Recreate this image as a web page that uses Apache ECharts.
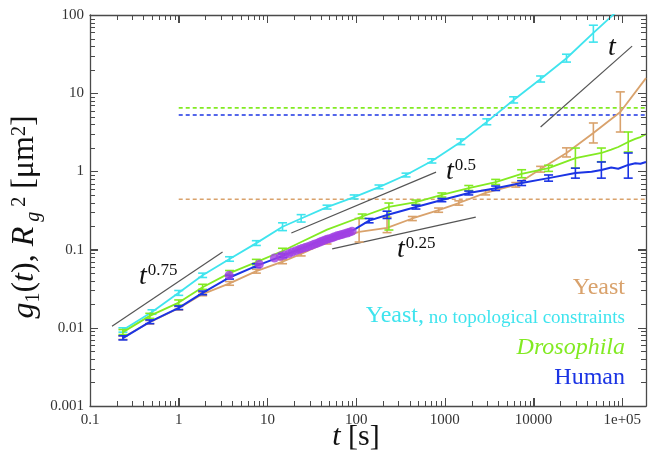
<!DOCTYPE html>
<html>
<head>
<meta charset="utf-8">
<script src="https://cdn.jsdelivr.net/npm/echarts@6/dist/echarts.min.js"></script>
<style>
  html, body { margin: 0; padding: 0; background: #fff; }
  #chart { width: 649px; height: 461px; }
</style>
</head>
<body>
<div id="chart"></div>
<script>
const X_MIN = 0.1, X_MAX = 185000
const Y_MIN = 0.001, Y_MAX = 100
const xTickLabels = ['0.1', '1', '10', '100', '1000', '10000', '1e+05']
const yTickLabels = ['0.001', '0.01', '0.1', '1', '10', '100']

const yeastT = [0.235, 0.472, 1, 1.86, 3.74, 7.5, 14.8, 24, 47, 108, 223, 430, 850, 1436, 2880, 6300, 12000, 23500, 47200, 95000, 185000]
const yeastV = [0.0075, 0.0118, 0.0178, 0.027, 0.037, 0.053, 0.070, 0.088, 0.125, 0.168, 0.19, 0.25, 0.32, 0.394, 0.53, 0.67, 1.07, 1.72, 3.1, 5.75, 15.6]
const yeastLo = [0.0071, 0.0112, 0.0169, 0.0257, 0.035, 0.050, 0.066, 0.083, 0.118, 0.125, 0.165, 0.235, 0.30, 0.37, 0.50, 0.63, 0.98, 1.53, 2.31, 3.19, null]
const yeastHi = [0.0079, 0.0124, 0.0187, 0.0284, 0.039, 0.056, 0.074, 0.094, 0.133, 0.25, 0.26, 0.265, 0.34, 0.42, 0.57, 0.72, 1.16, 2.0, 4.16, 10.4, null]

const freeT = [0.235, 0.5, 1, 1.86, 3.74, 7.5, 14.8, 24, 47, 95, 181, 365, 714, 1510, 2970, 5960, 12000, 23500, 47200, 95000]
const freeV = [0.0094, 0.0159, 0.028, 0.047, 0.076, 0.121, 0.196, 0.25, 0.35, 0.47, 0.63, 0.90, 1.36, 2.38, 4.3, 8.2, 15.2, 28, 59, 122]
const freeLo = [0.0088, 0.0149, 0.026, 0.044, 0.071, 0.113, 0.175, 0.225, 0.33, 0.445, 0.60, 0.85, 1.28, 2.2, 3.95, 7.5, 13.9, 25, 45, null]
const freeHi = [0.0100, 0.0170, 0.030, 0.050, 0.081, 0.130, 0.22, 0.28, 0.37, 0.50, 0.67, 0.95, 1.45, 2.6, 4.7, 9.0, 16.6, 31.5, 74, null]

const drosT = [0.235, 0.472, 1, 1.86, 3.74, 7.5, 14.8, 24, 47, 117, 234, 472, 925, 1860, 3740, 7330, 14750, 29600, 58100, 75000, 90000, 116600, 140000, 160000, 185000]
const drosV = [0.0088, 0.0142, 0.021, 0.033, 0.050, 0.069, 0.096, 0.125, 0.18, 0.265, 0.351, 0.406, 0.50, 0.61, 0.73, 0.93, 1.10, 1.48, 1.72, 1.9, 2.05, 2.38, 2.6, 2.75, 3.0]
const drosLo = [0.0082, 0.0132, 0.0195, 0.031, 0.046, 0.064, 0.089, null, null, 0.25, 0.178, 0.38, 0.47, 0.57, 0.68, 0.83, 1.0, 1.10, 1.33, null, null, 1.77, null, null, null]
const drosHi = [0.0095, 0.0153, 0.0227, 0.036, 0.054, 0.075, 0.104, null, null, 0.285, 0.394, 0.43, 0.53, 0.66, 0.79, 1.05, 1.2, 1.99, 1.99, null, null, 3.19, null, null, null]

const humanT = [0.235, 0.472, 1, 1.86, 3.74, 7.5, 14.8, 24, 47, 95, 140, 223, 472, 925, 1860, 3740, 7330, 14750, 29600, 45000, 58100, 75000, 90000, 116600, 140000, 160000, 185000]
const humanV = [0.0074, 0.0119, 0.018, 0.028, 0.044, 0.062, 0.083, 0.103, 0.14, 0.18, 0.235, 0.277, 0.351, 0.43, 0.53, 0.61, 0.71, 0.82, 0.955, 0.99, 1.04, 1.12, 1.08, 1.21, 1.27, 1.25, 1.32]
const humanLo = [0.0070, 0.0113, 0.0171, 0.0265, 0.042, 0.059, 0.079, null, null, null, 0.22, 0.25, 0.33, 0.41, 0.50, 0.57, 0.66, 0.75, 0.82, null, 0.82, null, null, 0.82, null, null, null]
const humanHi = [0.0079, 0.0126, 0.0190, 0.0295, 0.047, 0.066, 0.088, null, null, null, 0.25, 0.31, 0.37, 0.45, 0.56, 0.65, 0.76, 0.90, 1.10, null, 1.32, null, null, 1.72, null, null, null]

const dotT = [3.7, 8.1, 12, 14, 15.6, 17.5, 19, 21, 22.8, 24.5, 26.6, 28.5, 31, 33.5, 36, 38.5, 41, 44, 47, 50, 54, 57, 61, 65, 69, 74, 79, 84, 90]
const dotV = [0.047, 0.065, 0.078, 0.082, 0.085, 0.089, 0.093, 0.097, 0.100, 0.103, 0.106, 0.109, 0.113, 0.117, 0.120, 0.124, 0.128, 0.132, 0.136, 0.138, 0.142, 0.146, 0.150, 0.153, 0.156, 0.160, 0.163, 0.167, 0.172]

const plateauT = [1, X_MAX]
const plateauDros = 6.5, plateauHuman = 5.27, plateauYeast = 0.44
const guide075 = [[0.177, 0.0105], [3.12, 0.093]]
const guide05 = [[18.6, 0.163], [795, 0.98]]
const guide025 = [[53.7, 0.102], [2230, 0.26]]
const guide1 = [[12000, 3.7], [129000, 40]]

const C = { yeast: '#d9a26c', free: '#3fe4ee', dros: '#82ea22', human: '#1b34e4', dot: '#a040e4' }
const AXIS = '#4a4a4a'
const serif = '"Liberation Serif", "Times New Roman", serif'
const pairs = (xs, ys) => xs.map((x, i) => [x, ys[i]])

const tickFmt = labels => v => {
  const e = Math.log10(v), r = Math.round(e)
  if (Math.abs(e - r) > 1e-6) return ''
  return labels[r - Math.round(Math.log10(labels === xTickLabels ? X_MIN : Y_MIN))] || ''
}
function curve(name, xs, ys, color, z, width) {
  return { name, type: 'line', data: pairs(xs, ys), symbol: 'none', z, silent: true, lineStyle: { color, width: width || 1.8 } }
}
function errBars(xs, lo, hi, color, z) {
  const data = xs.map((x, i) => lo[i] == null ? null : [x, lo[i], hi[i]]).filter(Boolean)
  return {
    type: 'custom', data, z, silent: true, encode: { x: 0, y: [1, 2] },
    renderItem(params, api) {
      const a = api.coord([api.value(0), api.value(1)])
      const b = api.coord([api.value(0), api.value(2)])
      const w = 4.5, style = { stroke: color, lineWidth: 1.6 }
      return { type: 'group', children: [
        { type: 'line', shape: { x1: a[0], y1: a[1], x2: b[0], y2: b[1] }, style },
        { type: 'line', shape: { x1: a[0] - w, y1: a[1], x2: a[0] + w, y2: a[1] }, style },
        { type: 'line', shape: { x1: b[0] - w, y1: b[1], x2: b[0] + w, y2: b[1] }, style }
      ] }
    }
  }
}
function dashed(level, color) {
  return { type: 'line', data: plateauT.map(t => [t, level]), symbol: 'none', z: 2, silent: true, lineStyle: { color, width: 1.6, type: [4, 3] } }
}
function guide(pts) {
  return { type: 'line', data: pts, symbol: 'none', z: 3, silent: true, lineStyle: { color: '#555', width: 1.2 } }
}
function axisBase(extra) {
  return Object.assign({
    type: 'log', logBase: 10,
    axisLine: { show: true, lineStyle: { color: AXIS, width: 1.3 } },
    axisTick: { show: true, inside: true, length: 8, lineStyle: { color: AXIS, width: 1 } },
    splitLine: { show: false }, minorTick: { show: false }
  }, extra)
}
const label = (x, y, text, rich, opt) => {
  const style = Object.assign({ text, align: 'left', verticalAlign: 'middle', fill: '#111' }, opt || {})
  if (rich) style.rich = rich
  return { type: 'text', x, y, silent: true, z: 20, style }
}
const powRich = {
  t: { fontFamily: serif, fontSize: 28, fontStyle: 'italic', fill: '#111' },
  s: { fontFamily: serif, fontSize: 17, fill: '#111', padding: [0, 0, 12, 1] }
}

const chart = echarts.init(document.getElementById('chart'))
chart.setOption({
  animation: false, backgroundColor: '#fff',
  grid: { left: 90, right: 1, top: 15, bottom: 55 },
  xAxis: [
    axisBase({ min: X_MIN, max: X_MAX, position: 'bottom',
      axisLabel: { formatter: tickFmt(xTickLabels), fontFamily: serif, fontSize: 15, color: '#333', margin: 7 } }),
    axisBase({ min: X_MIN, max: X_MAX, position: 'top', axisLabel: { show: false } })
  ],
  yAxis: [
    axisBase({ min: Y_MIN, max: Y_MAX, position: 'left',
      axisLabel: { formatter: tickFmt(yTickLabels), fontFamily: serif, fontSize: 15, color: '#333', margin: 6 } }),
    axisBase({ min: Y_MIN, max: Y_MAX, position: 'right', axisLabel: { show: false } })
  ],
  series: [
    dashed(plateauDros, C.dros), dashed(plateauHuman, C.human), dashed(plateauYeast, C.yeast),
    guide(guide075), guide(guide05), guide(guide025), guide(guide1),
    curve('Yeast', yeastT, yeastV, C.yeast, 4), errBars(yeastT, yeastLo, yeastHi, C.yeast, 4),
    curve('Yeast free', freeT, freeV, C.free, 5), errBars(freeT, freeLo, freeHi, C.free, 5),
    curve('Drosophila', drosT, drosV, C.dros, 6), errBars(drosT, drosLo, drosHi, C.dros, 6),
    curve('Human', humanT, humanV, C.human, 7, 2), errBars(humanT, humanLo, humanHi, C.human, 7),
    { type: 'scatter', data: pairs(dotT, dotV), symbol: 'circle', symbolSize: 9, z: 8, silent: true, itemStyle: { color: C.dot } }
  ]
})

// frame ticks placed through the axis scales
const px = v => chart.convertToPixel({ xAxisIndex: 0 }, v)
const py = v => chart.convertToPixel({ yAxisIndex: 0 }, v)
const gL = px(X_MIN), gR = px(X_MAX), gT = py(Y_MAX), gB = py(Y_MIN)
const tickLine = (x1, y1, x2, y2) => ({ type: 'line', silent: true, z: 30, shape: { x1, y1, x2, y2 }, style: { stroke: AXIS, lineWidth: 1 } })
const ticks = []
for (let e = -1; e <= 5; e++) for (let m = 1; m <= 9; m++) {
  const v = +(m * Math.pow(10, e)).toPrecision(3)
  if (v > X_MAX) continue
  const x = Math.round(px(v)) + 0.5, len = m === 1 ? 8 : 5
  ticks.push(tickLine(x, gB, x, gB - len), tickLine(x, gT, x, gT + len))
}
for (let e = -3; e <= 2; e++) for (let m = 1; m <= 9; m++) {
  const v = +(m * Math.pow(10, e)).toPrecision(3)
  if (v > Y_MAX) continue
  const y = Math.round(py(v)) + 0.5, len = m === 1 ? 8 : 5
  ticks.push(tickLine(gL, y, gL + len, y), tickLine(gR, y, gR - len, y))
}

chart.setOption({
  graphic: [
    label(139, 277, '{t|t}{s|0.75}', powRich),
    label(446, 172, '{t|t}{s|0.5}', powRich),
    label(397, 250, '{t|t}{s|0.25}', powRich),
    label(608, 48, '{t|t}', powRich),
    label(625, 288, 'Yeast', null, { align: 'right', fontFamily: serif, fontSize: 24, fill: C.yeast }),
    label(625, 316, '{a|Yeast,}{b| no topological constraints}', {
      a: { fontFamily: serif, fontSize: 24, fill: C.free },
      b: { fontFamily: serif, fontSize: 19, fill: C.free, padding: [4, 0, 0, 0] }
    }, { align: 'right' }),
    label(625, 348, 'Drosophila', null, { align: 'right', fontFamily: serif, fontSize: 24, fontStyle: 'italic', fill: C.dros }),
    label(625, 378, 'Human', null, { align: 'right', fontFamily: serif, fontSize: 24, fill: C.human }),
    label(356, 437, '{i|t}{n| [s]}', {
      i: { fontFamily: serif, fontSize: 30, fontStyle: 'italic', fill: '#111' },
      n: { fontFamily: serif, fontSize: 30, fill: '#111' }
    }, { align: 'center' }),
    Object.assign(label(25, 217, '{i|g}{s|1}{n|(}{i|t}{n|), }{i|R}{si| g}{p| 2}{n| [μm}{p|2}{n|]}', {
      i: { fontFamily: serif, fontSize: 32, fontStyle: 'italic', fill: '#111' },
      n: { fontFamily: serif, fontSize: 32, fill: '#111' },
      s: { fontFamily: serif, fontSize: 20, fill: '#111', padding: [18, 0, 0, 0] },
      si: { fontFamily: serif, fontSize: 20, fontStyle: 'italic', fill: '#111', padding: [18, 0, 0, 0] },
      p: { fontFamily: serif, fontSize: 20, fill: '#111', padding: [0, 0, 10, 0] }
    }, { align: 'center' }), { rotation: Math.PI / 2 })
  ].concat(ticks)
})
</script>
</body>
</html>
